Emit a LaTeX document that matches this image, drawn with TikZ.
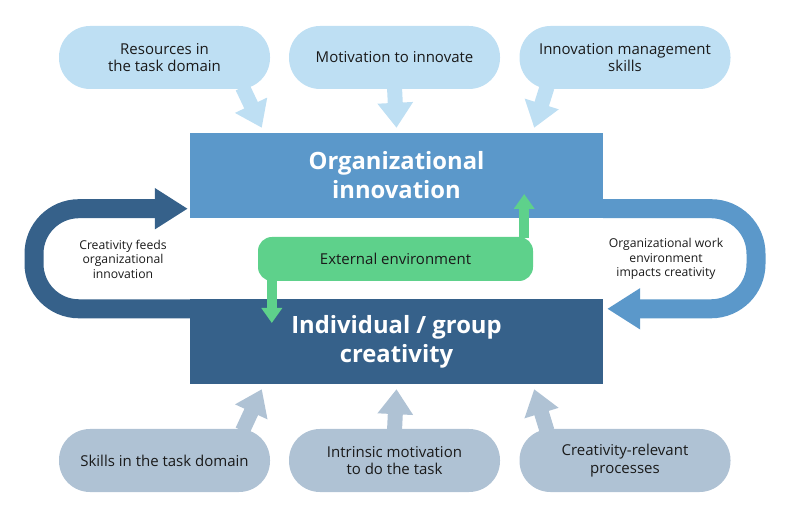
\documentclass[tikz,border=0pt]{standalone}
\usepackage{fontspec}
\setmainfont{Open Sans}
\usetikzlibrary{arrows.meta,positioning}
\definecolor{topblue}{RGB}{190,223,243}
\definecolor{innoblue}{RGB}{91,152,202}
\definecolor{creablue}{RGB}{54,97,138}
\definecolor{envgreen}{RGB}{94,209,139}
\definecolor{botgray}{RGB}{175,194,212}
\definecolor{textdark}{RGB}{26,26,26}

\begin{document}
\begin{tikzpicture}[x=1pt, y=-1pt,
    bubble/.style={rounded corners=31pt, minimum width=211pt, minimum height=63pt, align=center, inner sep=0pt, text=textdark, font=\fontsize{15}{17.5}\selectfont},
    mainbox/.style={minimum width=413pt, minimum height=85pt, align=center, inner sep=0pt, text=white, font=\bfseries\fontsize{23.8}{29}\selectfont},
    fatarrow/.style={line width=15pt, -{Triangle[length=25pt, width=34pt]}},
    looparrow/.style={line width=19pt, rounded corners=45pt, -{Triangle[length=33pt, width=39pt]}},
    envarrow/.style={line width=10pt, draw=envgreen, -{Triangle[length=15pt, width=20pt]}},
    label/.style={align=center, text=textdark, font=\fontsize{12.2}{14.5}\selectfont}
]
\useasboundingbox (0,0) rectangle (790,518);

% Top factors
\node[bubble, fill=topblue] (resources) at (164.5, 57.5) {Resources in\\the task domain};
\node[bubble, fill=topblue] (motivation) at (394.5, 57.5) {Motivation to innovate};
\node[bubble, fill=topblue] (management) at (625, 57.5) {Innovation management\\skills};

% Main boxes
\node[mainbox, fill=innoblue] (innovation) at (396.5, 175.5) {Organizational\\innovation};
\node[mainbox, fill=creablue] (creativity) at (396.5, 341.5) {Individual / group\\creativity};

% Bottom factors
\node[bubble, fill=botgray] (skills) at (164.5, 460.5) {Skills in the task domain};
\node[bubble, fill=botgray] (intrinsic) at (394.5, 460.5) {Intrinsic motivation\\to do the task};
\node[bubble, fill=botgray] (processes) at (625, 460.5) {Creativity-relevant\\processes};

% Arrows into the boxes
\draw[fatarrow, draw=topblue] ([xshift=78pt, yshift=2pt]resources.south) -- ([xshift=72pt, yshift=5pt]innovation.north west);
\draw[fatarrow, draw=topblue] ([yshift=2pt]motivation.south) -- ([yshift=5pt]innovation.north);
\draw[fatarrow, draw=topblue] ([xshift=-78pt, yshift=2pt]management.south) -- ([xshift=-69pt, yshift=5pt]innovation.north east);
\draw[fatarrow, draw=botgray] ([xshift=78pt, yshift=-2pt]skills.north) -- ([xshift=72pt, yshift=-5pt]creativity.south west);
\draw[fatarrow, draw=botgray] ([yshift=-2pt]intrinsic.north) -- ([yshift=-5pt]creativity.south);
\draw[fatarrow, draw=botgray] ([xshift=-78pt, yshift=-2pt]processes.north) -- ([xshift=-69pt, yshift=-5pt]creativity.south east);

% Feedback loops
\coordinate (leftturn) at (34, 0);
\coordinate (rightturn) at (756, 0);
\draw[looparrow, draw=creablue] ([yshift=-10pt]creativity.north west) -- ([yshift=-10pt]leftturn |- creativity.north) -- ([yshift=9.5pt]leftturn |- innovation.south) -- ([xshift=-2pt, yshift=9.5pt]innovation.south west);
\draw[looparrow, draw=innoblue] ([yshift=9.5pt]innovation.south east) -- ([yshift=9.5pt]rightturn |- innovation.south) -- ([yshift=-10pt]rightturn |- creativity.north) -- ([xshift=4pt, yshift=-10pt]creativity.north east);

\node[label] (feeds) at (123, 259) {Creativity feeds\\organizational\\innovation};
\node[label] (impacts) at (666, 259) {Organizational work\\environment\\impacts creativity};

% External environment
\node[rounded corners=14pt, fill=envgreen, minimum width=275pt, minimum height=44pt, inner sep=0pt, text=textdark, font=\fontsize{15}{17.5}\selectfont] (external) at (395.5, 259) {External environment};
\draw[envarrow] ([xshift=-9pt, yshift=-1pt]external.north east) -- ([xshift=-9pt]external.north east |- 0,194);
\draw[envarrow] ([xshift=14pt, yshift=1pt]external.south west) -- ([xshift=14pt]external.south west |- 0,323);

\end{tikzpicture}
\end{document}
